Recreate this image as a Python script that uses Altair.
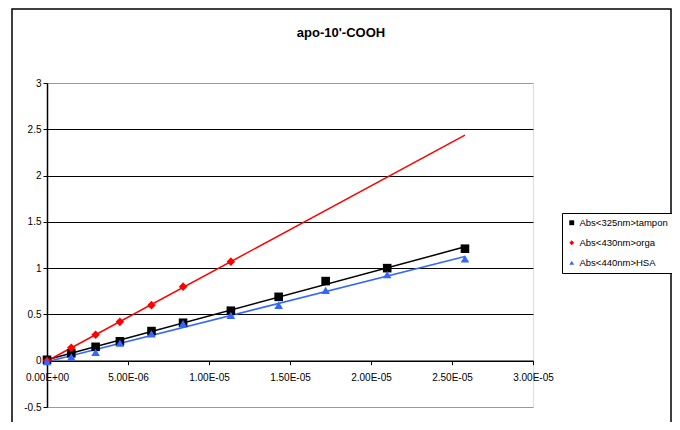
import altair as alt
import pandas as pd

# ---- data ----
series_names = ["Abs<325nm>tampon", "Abs<430nm>orga", "Abs<440nm>HSA"]
series_colors = ["#000000", "#FF0000", "#3366FF"]
series_shapes = ["square", "diamond", "triangle-up"]

conc_all = [0, 1.5e-6, 3.0e-6, 4.5e-6, 6.45e-6, 8.4e-6, 1.135e-5, 1.43e-5, 1.72e-5, 2.1e-5, 2.58e-5]
abs_tampon = [0.01, 0.08, 0.15, 0.21, 0.32, 0.41, 0.54, 0.69, 0.86, 1.00, 1.21]
conc_orga = [0, 1.5e-6, 3.0e-6, 4.5e-6, 6.45e-6, 8.4e-6, 1.135e-5]
abs_orga = [0.0, 0.14, 0.28, 0.42, 0.60, 0.80, 1.07]
abs_hsa = [-0.01, 0.04, 0.09, 0.19, 0.29, 0.40, 0.49, 0.60, 0.76, 0.93, 1.10]

x_ticks = [0, 5e-6, 1e-5, 1.5e-5, 2e-5, 2.5e-5, 3e-5]
y_ticks = [-0.5, 0, 0.5, 1, 1.5, 2, 2.5, 3]
trend_extent = [0, 2.58e-5]
title_text = "apo-10'-COOH"

rows = []
for x, y in zip(conc_all, abs_tampon):
    rows.append({"x": x, "y": y, "s": series_names[0]})
for x, y in zip(conc_orga, abs_orga):
    rows.append({"x": x, "y": y, "s": series_names[1]})
for x, y in zip(conc_all, abs_hsa):
    rows.append({"x": x, "y": y, "s": series_names[2]})
df = pd.DataFrame(rows)

FONT = "Liberation Sans"
W, H = 486, 324

xscale = alt.Scale(domain=[0, 3e-5], nice=False, zero=False)
yscale = alt.Scale(domain=[-0.5, 3], nice=False, zero=False)

x_label_expr = ("datum.value == 0 ? '0.00E+00' : (datum.value >= 1e-5 ? "
                "format(datum.value*1e5, '.2f') + 'E-05' : format(datum.value*1e6, '.2f') + 'E-06')")

x_enc = alt.X("x:Q", scale=xscale,
              axis=alt.Axis(values=x_ticks, labelExpr=x_label_expr, title=None,
                            offset=-(H / 3.5) * 0.5, grid=False, domainColor="black",
                            domainWidth=1.5, tickColor="black", tickSize=4,
                            labelFont=FONT, labelFontSize=10, labelColor="black",
                            labelPadding=8, labelFlush=False))
y_enc = alt.Y("y:Q", scale=yscale,
              axis=alt.Axis(values=y_ticks, labelExpr="'' + datum.value", title=None,
                            grid=True,
                            gridColor={"expr": "datum.value == -0.5 || datum.value == 3 ? '#999999' : '#000000'"},
                            gridWidth=1, gridOpacity=1,
                            domainColor="black", domainWidth=1.5, tickColor="black",
                            tickSize=4, labelFont=FONT, labelFontSize=10,
                            labelColor="black", labelPadding=2))

color_scale = alt.Scale(domain=series_names, range=series_colors)
shape_scale = alt.Scale(domain=series_names, range=series_shapes)


def make_legend():
    return alt.Legend(title=None, orient="none", legendX=515, legendY=130,
                      strokeColor="black", fillColor="white", padding=5,
                      rowPadding=9, labelFont=FONT, labelFontSize=9.5,
                      labelColor="black", symbolSize=24, labelOffset=3,
                      symbolStrokeWidth=0, labelLimit=200)


base = alt.Chart(df)

points = base.mark_point(filled=True, opacity=1, size=74, strokeWidth=0).encode(
    x=x_enc,
    y=y_enc,
    color=alt.Color("s:N", scale=color_scale, legend=make_legend()),
    shape=alt.Shape("s:N", scale=shape_scale, legend=make_legend()),
)

lines = base.transform_regression(
    "x", "y", groupby=["s"], extent=trend_extent
).mark_line(strokeWidth=1.5).encode(
    x=alt.X("x:Q", scale=xscale),
    y=alt.Y("y:Q", scale=yscale),
    color=alt.Color("s:N", scale=color_scale, legend=make_legend()),
)

one = alt.Data(values=[{"a": 1}])

frame = alt.Chart(one).mark_rect(fillOpacity=0, stroke="black", strokeWidth=1.5).encode(
    x=alt.value(-35), x2=alt.value(624), y=alt.value(-74), y2=alt.value(420)
)

title = alt.Chart(one).mark_text(
    text=title_text, font=FONT, fontSize=13, fontWeight="bold", color="black",
    align="center", baseline="middle"
).encode(x=alt.value(294), y=alt.value(-50))

chart = alt.layer(frame, lines, points, title).properties(
    width=W, height=H,
    autosize=alt.AutoSizeParams(type="none"),
    padding={"left": 39, "top": 75, "right": 139, "bottom": 15},
).configure_view(
    stroke="#999999", strokeWidth=1.5
).configure(background="white")

chart.save("out.html", embed_options={"renderer": "svg", "actions": False})
